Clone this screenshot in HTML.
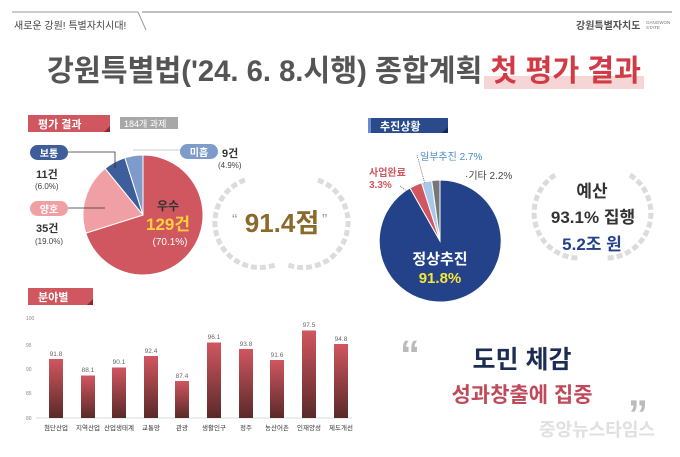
<!DOCTYPE html>
<html><head><meta charset="utf-8"><style>
body{margin:0;background:#fff;}
svg text{font-family:"Liberation Sans","Noto Sans CJK KR",sans-serif;}
</style></head><body>
<svg width="680" height="452" viewBox="0 0 680 452" xmlns="http://www.w3.org/2000/svg">
<rect width="680" height="452" fill="#fff"/>
<!-- header -->
<line x1="12" y1="12" x2="138" y2="12" stroke="#999" stroke-width="1"/>
<line x1="138" y1="12" x2="146" y2="30" stroke="#999" stroke-width="1"/>
<line x1="142" y1="12" x2="672" y2="12" stroke="#999" stroke-width="1.2"/>
<text x="14" y="29" font-size="10" fill="#444">새로운 강원! 특별자치시대!</text>
<text x="576" y="29" font-size="10" fill="#555" font-weight="bold">강원특별자치도</text>
<text x="646" y="24" font-size="4.5" fill="#777">GANGWON</text>
<text x="646" y="29" font-size="4.5" fill="#777">STATE</text>
<!-- title -->
<rect x="484" y="76" width="160" height="13" fill="#f5d5d5"/>
<text x="47" y="81" font-size="30" font-weight="bold" fill="#555" textLength="594" lengthAdjust="spacingAndGlyphs">강원특별법('24. 6. 8.시행) 종합계획 <tspan fill="#d23a45">첫 평가 결과</tspan></text>
<!-- section tags -->
<rect x="28" y="115" width="82" height="17" fill="#d0565f"/>
<path d="M104 132 L110 126 L110 132Z" fill="#8a2a30"/>
<text x="38" y="128" font-size="11" font-weight="bold" fill="#fff">평가 결과</text>
<rect x="120" y="117" width="58" height="12" fill="#a8a8a8"/>
<text x="124" y="127" font-size="9" fill="#fff">184개 과제</text>
<rect x="368" y="118" width="80" height="15" fill="#2a4a8c"/>
<rect x="368" y="118" width="3" height="15" fill="#6a8ad0"/>
<path d="M442 133 L448 127 L448 133Z" fill="#15285a"/>
<text x="380" y="130" font-size="11" font-weight="bold" fill="#fff">추진상황</text>
<rect x="28" y="288" width="65" height="17" fill="#d0565f"/>
<path d="M87 305 L93 299 L93 305Z" fill="#8a2a30"/>
<text x="38" y="301" font-size="11" font-weight="bold" fill="#fff">분야별</text>
<!-- left pie -->
<path d="M143 215 L143 155 A60 60 0 1 1 85.8 233.1Z" fill="#d0565f" stroke="#fff" stroke-width="1"/>
<path d="M143 215 L85.8 233.1 A60 60 0 0 1 105.1 168.5Z" fill="#f0a0a4" stroke="#fff" stroke-width="1"/>
<path d="M143 215 L105.1 168.5 A60 60 0 0 1 124.9 157.8Z" fill="#3d5e9a" stroke="#fff" stroke-width="1"/>
<path d="M143 215 L124.9 157.8 A60 60 0 0 1 143 155Z" fill="#7d9ccc" stroke="#fff" stroke-width="1"/>
<text x="168" y="210" font-size="12" font-weight="bold" fill="#333" text-anchor="middle">우수</text>
<text x="168" y="230" font-size="17" font-weight="bold" fill="#ffd23a" text-anchor="middle">129건</text>
<text x="170" y="245" font-size="10" fill="#fff" text-anchor="middle">(70.1%)</text>
<!-- labels left -->
<rect x="30" y="145" width="38" height="15" rx="7.5" fill="#3d5e9a"/>
<text x="49" y="157" font-size="10" font-weight="bold" fill="#fff" text-anchor="middle">보통</text>
<polyline points="68,152 115,152 115,168" fill="none" stroke="#333" stroke-width="0.8"/>
<text x="36" y="178" font-size="11" font-weight="bold" fill="#333">11건</text>
<text x="35" y="189" font-size="8" fill="#444">(6.0%)</text>
<rect x="30" y="201" width="38" height="15" rx="7.5" fill="#f0a0a4"/>
<text x="49" y="213" font-size="10" font-weight="bold" fill="#fff" text-anchor="middle">양호</text>
<line x1="68" y1="208" x2="105" y2="208" stroke="#333" stroke-width="0.8"/>
<text x="36" y="232" font-size="11" font-weight="bold" fill="#333">35건</text>
<text x="35" y="244" font-size="8" fill="#444">(19.0%)</text>
<line x1="133" y1="150" x2="182" y2="150" stroke="#bbb" stroke-width="0.8"/>
<rect x="180" y="144" width="38" height="15" rx="7.5" fill="#7d9ccc"/>
<text x="199" y="156" font-size="10" font-weight="bold" fill="#fff" text-anchor="middle">미흡</text>
<text x="222" y="157" font-size="11" font-weight="bold" fill="#333">9건</text>
<text x="218" y="168" font-size="8" fill="#444">(4.9%)</text>
<!-- laurel 1 -->
<g fill="none" stroke="#dcdcdc" stroke-width="5" stroke-dasharray="6 3">
<path d="M245 180 A45 45 0 0 0 275 265"/>
<path d="M318 180 A45 45 0 0 1 288 265"/>
</g>
<text x="232" y="225" font-size="16" fill="#999">“</text>
<text x="322" y="225" font-size="16" fill="#999">”</text>
<text x="282" y="232" font-size="26" font-weight="bold" fill="#8a6a2a" text-anchor="middle">91.4점</text>
<!-- right pie -->
<path d="M440 241 L440 180 A61 61 0 1 1 410 188Z" fill="#23428a" stroke="#fff" stroke-width="1"/>
<path d="M440 241 L410 188 A61 61 0 0 1 421.6 182.8Z" fill="#d0565f" stroke="#fff" stroke-width="1"/>
<path d="M440 241 L421.6 182.8 A61 61 0 0 1 431.7 180.6Z" fill="#a8c8e8" stroke="#fff" stroke-width="1"/>
<path d="M440 241 L431.7 180.6 A61 61 0 0 1 440 180Z" fill="#777" stroke="#fff" stroke-width="1"/>
<text x="440" y="264" font-size="15" font-weight="bold" fill="#fff" text-anchor="middle">정상추진</text>
<text x="440" y="283" font-size="15" font-weight="bold" fill="#f5e63a" text-anchor="middle">91.8%</text>
<text x="369" y="176" font-size="10" font-weight="bold" fill="#d0565f">사업완료</text>
<text x="369" y="188" font-size="10" font-weight="bold" fill="#d0565f">3.3%</text>
<line x1="400" y1="186" x2="408" y2="192" stroke="#333" stroke-width="0.6" stroke-dasharray="1 1"/>
<text x="420" y="160" font-size="10" fill="#4a8ac8">일부추진 2.7%</text>
<line x1="417" y1="155" x2="425" y2="184" stroke="#333" stroke-width="0.6" stroke-dasharray="1 1"/>
<text x="465" y="179" font-size="10" fill="#444">·기타 2.2%</text>
<!-- laurel 2 -->
<g fill="none" stroke="#dcdcdc" stroke-width="5" stroke-dasharray="6 3">
<path d="M555 175 A45 45 0 0 0 580 258"/>
<path d="M630 175 A45 45 0 0 1 605 258"/>
</g>
<text x="592" y="197" font-size="17" font-weight="bold" fill="#333" text-anchor="middle">예산</text>
<text x="593" y="223" font-size="17" font-weight="bold" fill="#333" text-anchor="middle">93.1% 집행</text>
<text x="592" y="250" font-size="17" font-weight="bold" fill="#23428a" text-anchor="middle">5.2조 원</text>
<!-- bar chart -->
<defs><linearGradient id="bg" x1="0" y1="0" x2="0" y2="1"><stop offset="0" stop-color="#d0565f"/><stop offset="1" stop-color="#5a2a2a"/></linearGradient></defs>
<g font-size="5" fill="#888">
<text x="26" y="320">100</text><text x="26" y="347">95</text><text x="26" y="371">90</text><text x="26" y="395">85</text><text x="26" y="420">80</text>
</g>
<line x1="36" y1="418" x2="352" y2="418" stroke="#ccc" stroke-width="0.8"/>
<g fill="url(#bg)">
<rect x="49" y="359" width="14" height="59"/>
<rect x="81" y="375.5" width="14" height="42.5"/>
<rect x="112" y="367.5" width="14" height="50.5"/>
<rect x="144" y="356" width="14" height="62"/>
<rect x="175" y="381" width="14" height="37"/>
<rect x="207" y="342.5" width="14" height="75.5"/>
<rect x="239" y="349" width="14" height="69"/>
<rect x="270" y="360" width="14" height="58"/>
<rect x="302" y="330.5" width="14" height="87.5"/>
<rect x="334" y="344" width="14" height="74"/>
</g>
<g font-size="6.5" fill="#666" text-anchor="middle">
<text x="56" y="356">91.8</text><text x="88" y="372">88.1</text><text x="119" y="364">90.1</text><text x="151" y="353">92.4</text><text x="182" y="378">87.4</text><text x="214" y="339">96.1</text><text x="246" y="346">93.8</text><text x="277" y="357">91.6</text><text x="309" y="327">97.5</text><text x="341" y="341">94.8</text>
</g>
<g font-size="6.5" fill="#333" text-anchor="middle">
<text x="56" y="430">첨단산업</text><text x="88" y="430">지역산업</text><text x="119" y="430">산업생태계</text><text x="151" y="430">교통망</text><text x="182" y="430">관광</text><text x="214" y="430">생활인구</text><text x="246" y="430">정주</text><text x="277" y="430">농산어촌</text><text x="309" y="430">인재양성</text><text x="341" y="430">제도개선</text>
</g>
<!-- bottom right -->
<text x="400" y="368" font-size="40" font-weight="bold" fill="#bbb">“</text>
<text x="522" y="368" font-size="25" font-weight="bold" fill="#1c2c55" text-anchor="middle">도민 체감</text>
<text x="522" y="402" font-size="21" font-weight="bold" fill="#c04a5a" text-anchor="middle">성과창출에 집중</text>
<text x="628" y="428" font-size="40" font-weight="bold" fill="#bbb">”</text>
<text x="597" y="436" font-size="18" font-weight="bold" fill="#e0e0e0" text-anchor="middle">중앙뉴스타임스</text>
</svg>
</body></html>
